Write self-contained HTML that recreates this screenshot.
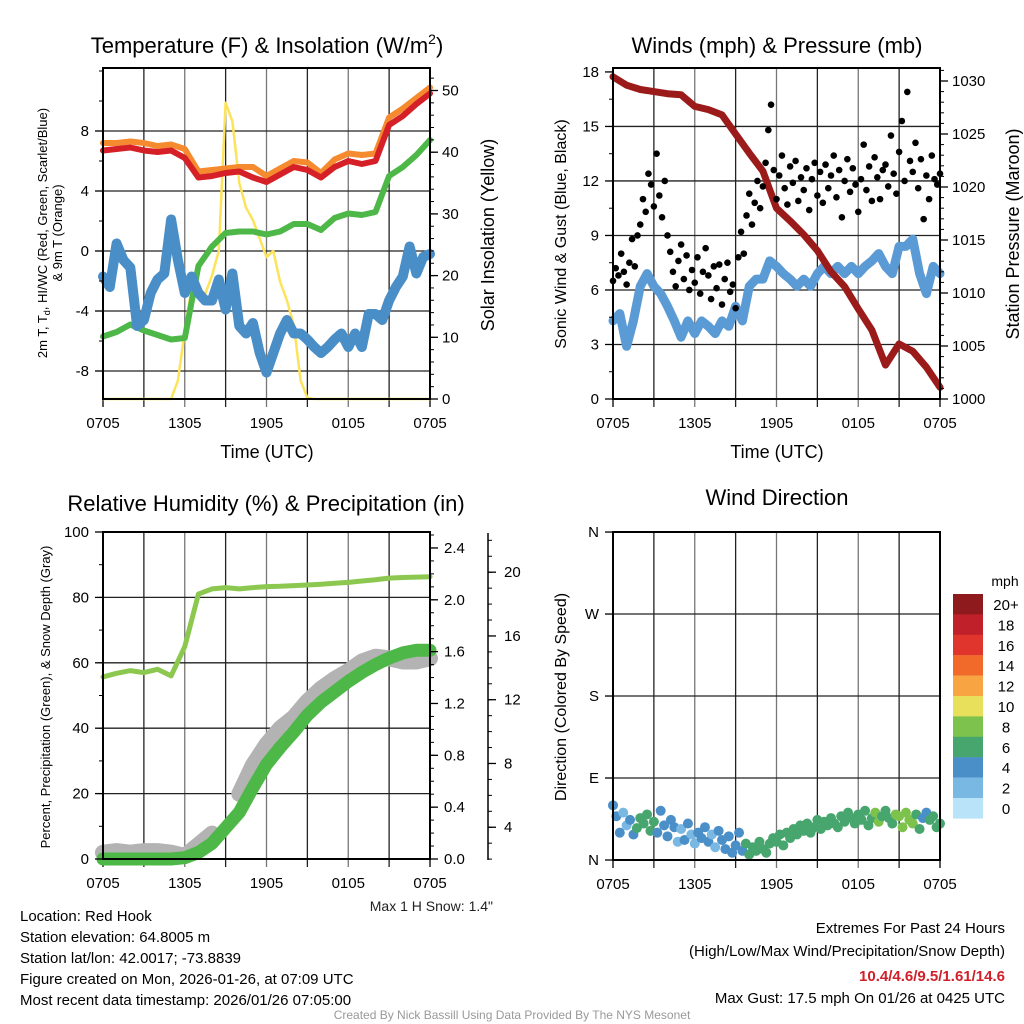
<!DOCTYPE html>
<html><head><meta charset="utf-8">
<style>
html,body{margin:0;padding:0;background:#fff;}
svg{display:block;font-family:"Liberation Sans",sans-serif;}
</style></head>
<body>
<svg id="chart" width="1024" height="1024" viewBox="0 0 1024 1024" xmlns="http://www.w3.org/2000/svg">
<rect width="1024" height="1024" fill="#fff"/>
<g id="grids"></g>
<g id="series"></g>
<g id="axes"></g>
<text x="267" y="53" font-size="22" text-anchor="middle">Temperature (F) &amp; Insolation (W/m<tspan font-size="14" dy="-9">2</tspan><tspan dy="9">)</tspan></text>
<text x="777" y="53" font-size="22" text-anchor="middle">Winds (mph) &amp; Pressure (mb)</text>
<text x="266" y="511" font-size="22" text-anchor="middle">Relative Humidity (%) &amp; Precipitation (in)</text>
<text x="777" y="505" font-size="22" text-anchor="middle">Wind Direction</text>
<text x="267" y="458" font-size="18" text-anchor="middle">Time (UTC)</text>
<text x="777" y="458" font-size="18" text-anchor="middle">Time (UTC)</text>
<text transform="translate(47,233) rotate(-90)" font-size="13" text-anchor="middle">2m T, T<tspan font-size="9" dy="3">d</tspan><tspan dy="-3">, HI/WC (Red, Green, Scarlet/Blue)</tspan></text>
<text transform="translate(62,233) rotate(-90)" font-size="13" text-anchor="middle">&amp; 9m T (Orange)</text>
<text transform="translate(494,235) rotate(-90)" font-size="18" text-anchor="middle">Solar Insolation (Yellow)</text>
<text transform="translate(566,234) rotate(-90)" font-size="16" text-anchor="middle">Sonic Wind &amp; Gust (Blue, Black)</text>
<text transform="translate(1019,234) rotate(-90)" font-size="18" text-anchor="middle">Station Pressure (Maroon)</text>
<text transform="translate(50,697) rotate(-90)" font-size="13" text-anchor="middle">Percent, Precipitation (Green), &amp; Snow Depth (Gray)</text>
<text transform="translate(566,697) rotate(-90)" font-size="16" text-anchor="middle">Direction (Colored By Speed)</text>
<text x="493" y="911" font-size="14" text-anchor="end" fill="#222">Max 1 H Snow: 1.4"</text>
<g font-size="15" fill="#000">
<text x="20" y="921">Location: Red Hook</text>
<text x="20" y="942">Station elevation: 64.8005 m</text>
<text x="20" y="963">Station lat/lon: 42.0017; -73.8839</text>
<text x="20" y="984">Figure created on Mon, 2026-01-26, at 07:09 UTC</text>
<text x="20" y="1005">Most recent data timestamp: 2026/01/26 07:05:00</text>
</g>
<g font-size="15" text-anchor="end">
<text x="1005" y="933">Extremes For Past 24 Hours</text>
<text x="1005" y="956">(High/Low/Max Wind/Precipitation/Snow Depth)</text>
<text x="1005" y="981" fill="#d0202a" font-weight="bold">10.4/4.6/9.5/1.61/14.6</text>
<text x="1005" y="1003">Max Gust: 17.5 mph On 01/26 at 0425 UTC</text>
</g>
<text x="512" y="1019" font-size="12" fill="#999" text-anchor="middle">Created By Nick Bassill Using Data Provided By The NYS Mesonet</text>
<text x="1005" y="586" font-size="14" text-anchor="middle">mph</text>
<g id="colorbar"></g>
</svg>
<script>
// ---------- data ----------
const xTickLabels = ["0705","1305","1905","0105","0705"];
const tempHours = [0,1,2,3,4,5,6,7,8,9,10,11,12,13,14,15,16,17,18,19,20,21,22,23,24];
const tempRed = [6.7,6.8,6.9,6.7,6.6,6.7,6.2,4.9,5.0,5.2,5.3,4.9,4.6,5.1,5.6,5.4,4.9,5.6,6.0,5.8,6.0,8.4,9.0,9.8,10.5];
const tempOrange = [7.2,7.2,7.3,7.2,7.0,7.1,6.8,5.3,5.4,5.5,5.6,5.6,5.0,5.5,6.0,5.9,5.2,6.1,6.5,6.4,6.5,8.9,9.5,10.2,10.9];
const tempGreen = [-5.7,-5.4,-4.9,-5.3,-5.6,-5.9,-5.8,-1.0,0.3,1.2,1.3,1.3,1.1,1.3,1.8,1.8,1.4,2.2,2.5,2.4,2.6,5.0,5.6,6.4,7.4];
const windChill = [-1.7,-2.4,0.5,-0.6,-1.1,-5.0,-4.6,-2.8,-1.9,-1.5,2.1,-0.6,-2.8,-1.7,-2.8,-3.3,-3.3,-1.9,-3.9,-1.5,-5.0,-5.5,-4.8,-6.8,-8.1,-6.8,-5.5,-4.6,-5.5,-5.5,-5.9,-6.4,-6.8,-6.4,-5.9,-5.5,-6.4,-5.5,-6.4,-4.2,-4.2,-4.6,-3.3,-2.4,-1.7,0.3,-1.5,-0.4,-0.2];
const insolation = [0,0,0,0,0,0,0,0,0,0,0,3,11,18,18,17,20,24,48,45,35,31,29,26,23,24,19,16,12,3,0.2,0,0,0,0,0,0,0,0,0,0,0,0,0,0,0,0,0,0];
const pressure = [1030.4,1029.6,1029.2,1029.0,1028.8,1028.7,1027.6,1027.3,1026.8,1025.0,1023.2,1021.5,1018.0,1016.8,1015.5,1014.0,1012.0,1010.6,1008.5,1006.5,1003.2,1005.2,1004.5,1003.0,1001.1];
const windSpeed = [4.3,4.7,2.9,4.3,6.2,6.9,6.2,5.8,5.1,4.3,3.4,4.3,3.6,4.3,4.0,3.6,4.3,4.0,5.1,4.3,6.2,6.6,6.6,7.6,7.3,6.9,6.6,6.2,6.6,6.2,6.9,7.3,6.9,7.3,6.9,7.3,6.9,7.3,7.6,8.0,7.3,6.9,8.4,8.4,8.8,6.9,5.8,7.3,6.9];
const windGust = [6.5,7.2,6.8,8.0,7.0,6.3,7.5,8.8,7.3,9.0,
9.6,11.0,10.3,12.4,11.8,10.6,13.5,11.2,10.0,12.0,
9.0,8.1,7.0,6.2,7.6,8.5,6.6,7.9,6.0,7.1,
6.4,7.8,5.8,7.0,8.3,6.8,5.5,7.3,6.1,7.4,
5.2,6.6,7.5,5.9,6.3,5.0,7.8,9.2,8.0,10.1,
11.3,9.6,10.8,12.0,10.5,11.7,13.0,14.8,16.2,12.6,
11.0,12.3,13.4,11.6,10.7,12.8,11.9,13.1,10.9,12.2,
11.5,12.7,10.4,12.1,13.0,11.2,12.5,10.8,12.9,11.6,
12.3,13.4,11.1,12.6,10.0,12.0,13.2,11.4,12.7,11.8,
10.3,12.1,14.0,11.5,12.8,10.9,13.3,12.2,11.0,12.6,
12.9,11.7,14.5,12.4,11.3,13.6,15.3,12.0,16.9,13.1,
12.5,14.1,11.6,13.2,9.9,12.3,11.0,13.4,12.1,11.8,12.4];
const relHumidity = [55.7,56.8,57.6,57.0,58.0,56.0,65,81,82.6,83,82.6,83,83.3,83.4,83.6,83.8,84,84.3,84.6,85,85.4,85.9,86.1,86.2,86.3];
const precipitation = [0,0,0,0,0,0,0.01,0.05,0.12,0.24,0.36,0.55,0.73,0.86,0.98,1.11,1.21,1.29,1.37,1.44,1.50,1.55,1.59,1.61,1.61];
const snowDepth = [2.4,2.5,2.4,2.5,2.5,2.4,2.2,2.9,3.6,null,6.1,7.9,9.2,10.2,10.9,11.9,12.7,13.3,13.8,14.4,14.7,14.6,14.4,14.4,14.6];
const windDirection = [60,48,30,52,38,44,28,35,46,40,50,32,42,30,54,38,26,44,36,20,34,22,40,28,18,30,24,36,20,28,14,32,22,12,26,8,16,30,10,18,6,14,10,20,12,8,18,24,20,28,16,30,24,34,28,38,32,40,30,36,44,34,42,38,46,40,36,48,42,52,46,40,50,44,54,38,46,52,42,48,54,46,40,50,48,36,52,44,40,50,34,46,52,44,48,36,40];
const speedBins = ["20+","18","16","14","12","10","8","6","4","2","0"];
const speedColors = ["#8f1a1d","#c0202a","#e0352c","#f26a2a","#f8a443","#e8e05a","#7cc24c","#47a56e","#4a8fc8","#7ab8e4","#b8e3f8"];

// ---------- scales ----------
const NS="http://www.w3.org/2000/svg";
const xL = t => 103 + t*13.625;
const xR = t => 613 + t*13.625;
const yTemp = v => 251 - v*15;
const ySol = v => 399 - v*6.17;
const yWind = v => 399 - v*18.17;
const yPres = p => 399 - (p-1000)*10.6;
const yRH = v => 859 - v*3.27;
const yPr = p => 859 - p*129.6;
const ySnow = s => 891 - s*15.94;
const yDir = d => 860 - d*0.911;

const G = document.getElementById('grids'), S = document.getElementById('series'), A = document.getElementById('axes');
function mk(tag, attrs, parent){ const e=document.createElementNS(NS,tag); for(const k in attrs) e.setAttribute(k,attrs[k]); parent.appendChild(e); return e; }
function line(parent,x1,y1,x2,y2,stroke,w,name){
  const e=mk('line',{x1,y1,x2,y2,stroke,'stroke-width':w},parent);
  
  
  return e;
}
function label(parent,x,y,txt,anchor,size,name){
  const e=mk('text',{x,y,'font-size':size||14,'text-anchor':anchor},parent);
  e.textContent=txt;
  
  
  return e;
}
function series(values, step, xf, yf, stroke, w, name){
  let d='', pen=false;
  values.forEach((v,i)=>{ if(v===null){pen=false;return;} const x=xf(i*step), y=yf(v); d += (pen?'L':'M')+x.toFixed(1)+' '+y.toFixed(1)+' '; pen=true; });
  const e=mk('path',{d,fill:'none',stroke,'stroke-width':w,'stroke-linecap':'round','stroke-linejoin':'round'},S);
  
  
  return e;
}

function frame(x0,y0,x1,y1,hVals,hf,prefix){
  for(let k=1;k<8;k++){ const x=x0+k*(x1-x0)/8; line(G,x,y0,x,y1+8,k%2?'#222':'#777',1.3,prefix+'-vertical-gridline'); }
  line(G,x0,y1,x0,y1+8,'#000',1.3,prefix+'-x-tick');
  line(G,x1,y1,x1,y1+8,'#000',1.3,prefix+'-x-tick');
  hVals.forEach(v=>{ const y=hf(v); line(G,x0,y,x1,y,'#222',1.3,prefix+'-horizontal-gridline'); });
  const r=mk('rect',{x:x0,y:y0,width:x1-x0,height:y1-y0,fill:'none',stroke:'#000','stroke-width':2},A);
  
  
  xTickLabels.forEach((t,i)=>label(A,x0+i*(x1-x0)/4,y1+29,t,'middle',15,prefix+'-x-tick-label'));
}
function leftAxis(x,vals,minor,yf,fmt,prefix){
  minor.forEach(v=>line(A,x-4,yf(v),x,yf(v),'#000',1,prefix+'-minor-tick'));
  vals.forEach(v=>{ line(A,x-8,yf(v),x,yf(v),'#000',1.3,prefix+'-major-tick'); label(A,x-14,yf(v)+5,fmt(v),'end',15,prefix+'-tick-label'); });
}
function rightAxis(x,vals,minor,yf,fmt,prefix,off){
  minor.forEach(v=>line(A,x,yf(v),x+4,yf(v),'#000',1,prefix+'-minor-tick'));
  vals.forEach(v=>{ line(A,x,yf(v),x+8,yf(v),'#000',1.3,prefix+'-major-tick'); label(A,x+(off||12),yf(v)+5,fmt(v),'start',15,prefix+'-tick-label'); });
}
const range=(a,b,s)=>{const r=[];for(let v=a;v<=b+1e-9;v+=s)r.push(+v.toFixed(3));return r;};

frame(103,68,430,399,[8,4,0,-4,-8],yTemp,'temperature');
leftAxis(103,[8,4,0,-4,-8],range(-8,12,2),yTemp,v=>String(v),'temperature-y');
rightAxis(430,[0,10,20,30,40,50],range(0,52,2),ySol,v=>String(v),'insolation-y');
frame(613,68,940,399,[3,6,9,12,15],yWind,'winds');
leftAxis(613,[0,3,6,9,12,15,18],range(0,18,1.5),yWind,v=>String(v),'wind-y');
rightAxis(940,[1000,1005,1010,1015,1020,1025,1030],range(1000,1031,1),yPres,v=>String(v),'pressure-y');
frame(103,532,430,859,[20,40,60,80],yRH,'humidity');
leftAxis(103,[0,20,40,60,80,100],range(0,100,10),yRH,v=>String(v),'humidity-y');
rightAxis(430,[0,0.4,0.8,1.2,1.6,2.0,2.4],range(0,2.5,0.1),yPr,v=>v.toFixed(1),'precip-y',14);
line(A,488,533,488,860,'#000',1.5,'snow-depth-axis-line');
rightAxis(488,[4,8,12,16,20],range(2,22,1),ySnow,v=>String(v),'snow-y',16);
frame(613,532,940,860,[90,180,270],yDir,'direction');
leftAxis(613,[0,90,180,270,360],[],yDir,v=>({0:'N',90:'E',180:'S',270:'W',360:'N'})[v],'direction-y');

series(insolation,0.5,xL,ySol,'#fde35a',2.5,'insolation-line');
series(tempGreen,1,xL,yTemp,'#4db847',6,'dewpoint-line');
series(windChill,0.5,xL,yTemp,'#4a8ec8',10,'wind-chill-line');
series(tempOrange,1,xL,yTemp,'#f58a2e',6,'temp-9m-line');
series(tempRed,1,xL,yTemp,'#d62027',6,'temp-2m-line');

series(windSpeed,0.5,xR,yWind,'#5b9bd5',9,'sonic-wind-line');
series(pressure,1,xR,yPres,'#9b1b1b',7,'pressure-line');
windGust.forEach((g,i)=>{
  const c=mk('circle',{cx:xR(i*0.2),cy:yWind(g),r:3.3,fill:'#000'},S);
  
  
});

series(snowDepth,1,xL,ySnow,'#b3b3b3',16,'snow-depth-line');
series(precipitation,1,xL,yPr,'#4db847',13,'precipitation-line');
series(relHumidity,1,xL,yRH,'#8cc850',5,'relative-humidity-line');

function speedColor(s){ const b=Math.max(0,Math.min(10,Math.floor(s/2))); return speedColors[10-b]; }
windDirection.forEach((d,i)=>{
  const t=i*0.25; const k=Math.min(48,Math.round(t*2)); const s=windSpeed[k];
  const c=mk('circle',{cx:xR(t),cy:yDir(d),r:5,fill:speedColor(s)},S);
  
  
});

const CB=document.getElementById('colorbar');
speedBins.forEach((lab,i)=>{
  const y=594+i*20.4;
  const r=mk('rect',{x:953,y:y,width:30,height:20.6,fill:speedColors[i]},CB);
  
  
  label(CB,1006,y+16,lab,'middle',15,'colorbar-label');
});
</script>
</body></html>
